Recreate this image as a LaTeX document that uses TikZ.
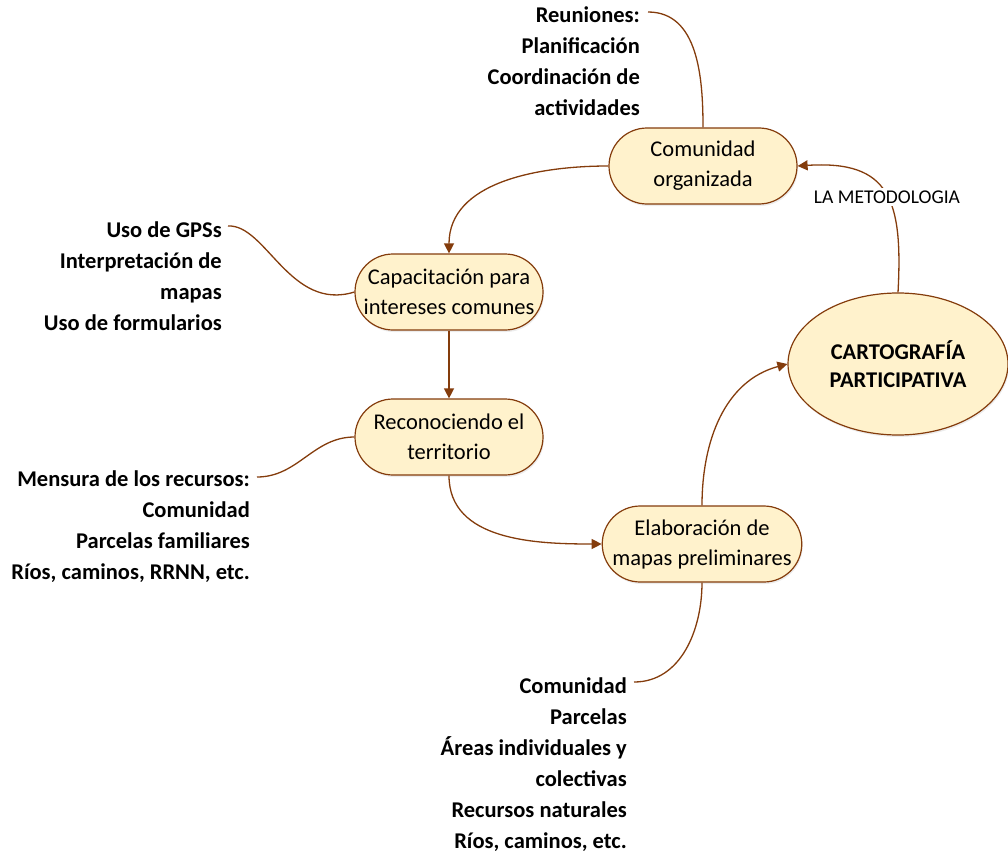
\documentclass[tikz,border=0pt]{standalone}
\usepackage{fontspec}
\setmainfont{Carlito}
\usetikzlibrary{arrows.meta,shapes.misc,shapes.geometric,shadows}
\definecolor{cafe}{RGB}{132,60,12}
\definecolor{crema}{RGB}{255,242,204}

\begin{document}
\begin{tikzpicture}[x=1pt,y=-1pt,
        paso/.style={rounded rectangle, draw=cafe, fill=crema, line width=1.2pt,
          minimum width=190pt, minimum height=76pt, inner sep=1pt, align=center,
          font=\fontsize{22.5}{30}\selectfont,
          drop shadow={opacity=.15, shadow xshift=1pt, shadow yshift=-2pt}},
        nota/.style={anchor=north east, inner sep=0pt, align=right,
          font=\fontsize{22.5}{31}\selectfont\bfseries},
        flecha/.style={draw=cafe, line width=1.3pt, -{Triangle[length=10pt,width=10pt]}},
        enlace/.style={draw=cafe, line width=1.3pt}]
        \useasboundingbox (0,0) rectangle (1008,856);
        % pasos
        \node[paso] (org) at (703,166) {Comunidad\\organizada};
        \node[paso] (cap) at (449,292) {Capacitación para\\intereses comunes};
        \node[paso] (rec) at (449,437) {Reconociendo el\\territorio};
        \node[paso] (elab) at (702,544) {Elaboración de\\mapas preliminares};
        \node[ellipse, draw=cafe, fill=crema, line width=1.2pt, minimum width=220pt,
          minimum height=142pt, inner sep=0pt, align=center,
          font=\fontsize{22.5}{28}\selectfont\bfseries,
          drop shadow={opacity=.15, shadow xshift=1pt, shadow yshift=-2pt}]
          (carto) at (898,364) {CARTOGRAFÍA\\PARTICIPATIVA};
        % notas
        \node[nota] (reun) at (640,7) {Reuniones:\\Planificación\\Coordinación de\\actividades};
        \node[nota] (gps) at (222,222) {Uso de GPSs\\Interpretación de\\mapas\\Uso de formularios};
        \node[nota] (mens) at (250,471) {Mensura de los recursos:\\Comunidad\\Parcelas familiares\\Ríos, caminos, RRNN, etc.};
        \node[nota] (prod) at (627,678) {Comunidad\\Parcelas\\Áreas individuales y\\colectivas\\Recursos naturales\\Ríos, caminos, etc.};
        \coordinate (fin1) at (648,12);
        \coordinate (fin2) at (228,226);
        \coordinate (fin3) at (257,477);
        \coordinate (fin4) at (634,682);
        % flechas
        \draw[flecha] (carto.north) .. controls (903,200) and (890,160) .. (org.east);
        \node[fill=white, inner sep=3pt, font=\fontsize{19.5}{21}\selectfont] (met) at (887,197) {LA METODOLOGIA};
        \draw[flecha] (org.west) to[out=180,in=90] (cap.north);
        \draw[flecha] (cap.south) -- (rec.north);
        \draw[flecha] (rec.south) to[out=-90,in=180] (elab.west);
        \draw[flecha] (elab.north) to[out=90,in=195] (carto.west);
        % enlaces a las notas
        \draw[enlace] (org.north) to[out=90,in=0] (fin1);
        \draw[enlace] (cap.west) .. controls (290,312) and (266,224) .. (fin2);
        \draw[enlace] (rec.west) to[out=180,in=0] (fin3);
        \draw[enlace] (elab.south) to[out=-90,in=0] (fin4);
      \end{tikzpicture}
\end{document}
